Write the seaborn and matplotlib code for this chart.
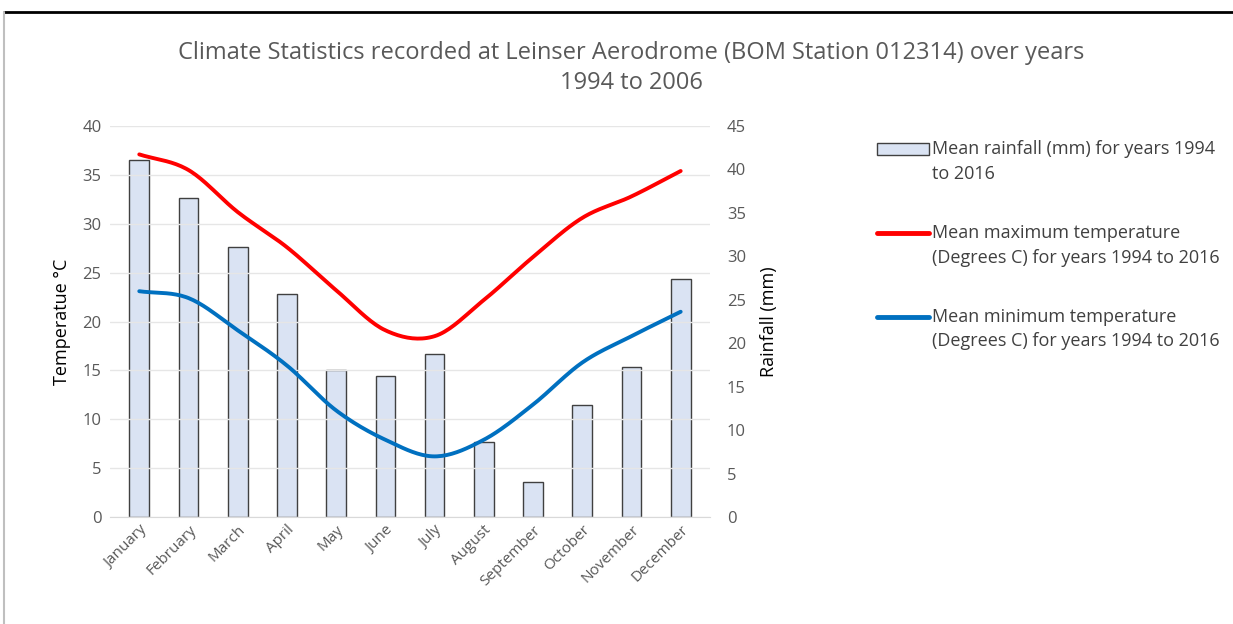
import numpy as np
import pandas as pd
import seaborn as sns
import matplotlib.pyplot as plt
import matplotlib.transforms as mtransforms
from matplotlib.patches import Patch
from matplotlib.lines import Line2D
from matplotlib.legend_handler import HandlerLine2D, HandlerPatch

#### data

months = ["January", "February", "March", "April", "May", "June", "July",
          "August", "September", "October", "November", "December"]
rainfall = [41.1, 36.7, 31.1, 25.7, 16.9, 16.2, 18.8, 8.6, 4.0, 12.9, 17.3, 27.4]
max_temp = [37.1, 35.5, 31.2, 27.6, 23.2, 19.1, 18.5, 22.2, 26.6, 30.6, 32.8, 35.4]
min_temp = [23.1, 22.4, 19.1, 15.5, 10.9, 7.9, 6.2, 7.9, 11.5, 15.8, 18.5, 21.0]

label_rain = "Mean rainfall (mm) for years 1994\nto 2016"
label_max = "Mean maximum temperature\n(Degrees C) for years 1994 to 2016"
label_min = "Mean minimum temperature\n(Degrees C) for years 1994 to 2016"

df = pd.DataFrame({"month": months, "rain": rainfall})


def smooth(y, n=20):
    # catmull-rom style smoothing, like the excel "smoothed line" option
    y = np.asarray(y, dtype=float)
    p = np.concatenate([[2 * y[0] - y[1]], y, [2 * y[-1] - y[-2]]])
    xs, ys = [], []
    for i in range(len(y) - 1):
        p0, p1, p2, p3 = p[i], p[i + 1], p[i + 2], p[i + 3]
        t = np.linspace(0, 1, n, endpoint=False)
        yy = 0.5 * ((2 * p1) + (-p0 + p2) * t + (2 * p0 - 5 * p1 + 4 * p2 - p3) * t ** 2
                    + (-p0 + 3 * p1 - 3 * p2 + p3) * t ** 3)
        xs.append(i + t)
        ys.append(yy)
    xs.append([len(y) - 1])
    ys.append([y[-1]])
    return np.concatenate(xs), np.concatenate(ys)


# legend handles sit next to the first line of each label, as in excel
SHIFT = 9.5


class TopLine(HandlerLine2D):
    def create_artists(self, legend, orig_handle, xdescent, ydescent, width, height, fontsize, trans):
        trans = mtransforms.Affine2D().translate(0, SHIFT) + trans
        return super().create_artists(legend, orig_handle, xdescent, ydescent, width, height, fontsize, trans)


class TopPatch(HandlerPatch):
    def create_artists(self, legend, orig_handle, xdescent, ydescent, width, height, fontsize, trans):
        trans = mtransforms.Affine2D().translate(0, SHIFT) + trans
        return super().create_artists(legend, orig_handle, xdescent, ydescent, width, height, fontsize, trans)


sns.set_style("white")
plt.rcParams["font.family"] = ["Open Sans", "DejaVu Sans"]
grey = "#595959"

fig = plt.figure(figsize=(12.33, 6.24), dpi=100)
ax = fig.add_axes([0.089, 0.1715, 0.487, 0.6265])
ax2 = ax.twinx()
ax.set_zorder(2)
ax.patch.set_visible(False)

# bars on the rainfall axis
sns.barplot(data=df, x="month", y="rain", ax=ax2, color="#dae3f3",
            edgecolor="#404040", linewidth=1.0, width=0.40, saturation=1)
ax2.set_ylim(0, 45)
ax2.set_yticks(range(0, 46, 5))
ax2.set_ylabel("Rainfall (mm)", fontsize=13, color="black", labelpad=10)

# temperature lines
xs, ys = smooth(max_temp)
ax.plot(xs, ys, color="#ff0000", lw=2.8, solid_capstyle="round")
xs, ys = smooth(min_temp)
ax.plot(xs, ys, color="#0070c0", lw=2.8, solid_capstyle="round")
ax.set_ylim(0, 40)
ax.set_yticks(range(0, 41, 5))
ax.set_xlim(-0.6, 11.6)
ax.set_ylabel("Temperatue °C", fontsize=13, color="black", labelpad=8)
ax.yaxis.grid(True, color="#e6e6e6", lw=1)
ax.set_xticks(range(12))
ax.set_xticklabels(months, rotation=45, ha="right", rotation_mode="anchor",
                   fontsize=11, color=grey)
ax2.set_xlabel("")
ax.set_xlabel("")

for a in (ax, ax2):
    for s in a.spines.values():
        s.set_visible(False)
    a.tick_params(axis="y", length=0, labelsize=12, labelcolor=grey, pad=12)
ax.tick_params(axis="y", pad=6)
ax.tick_params(axis="x", length=0, pad=4)
ax2.tick_params(axis="x", length=0)
ax.spines["bottom"].set_visible(True)
ax.spines["bottom"].set_color("#d9d9d9")

fig.text(0.512, 0.915, "Climate Statistics recorded at Leinser Aerodrome (BOM Station 012314) over years",
         ha="center", va="center", fontsize=17, color=grey)
fig.text(0.512, 0.867, "1994 to 2006", ha="center", va="center", fontsize=17, color=grey)

handles = [Patch(facecolor="#dae3f3", edgecolor="#404040", lw=1.0),
           Line2D([], [], color="#ff0000", lw=3.5),
           Line2D([], [], color="#0070c0", lw=3.5)]
leg = fig.legend(handles, [label_rain, label_max, label_min], loc="upper left",
                 bbox_to_anchor=(0.711, 0.775), frameon=False, fontsize=13,
                 labelspacing=2.3, handlelength=2.9, handletextpad=0.15,
                 borderpad=0, borderaxespad=0, labelcolor="#404040",
                 handler_map={Patch: TopPatch(), Line2D: TopLine()})
for t in leg.get_texts():
    t.set_linespacing(1.45)

# frame of the original screenshot
fig.add_artist(Line2D([0.003, 1.0], [0.981, 0.981], color="black", lw=2))
fig.add_artist(Line2D([0.003, 0.003], [0.0, 0.981], color="#bfbfbf", lw=1.5))

plt.savefig("out.png", dpi=100)
